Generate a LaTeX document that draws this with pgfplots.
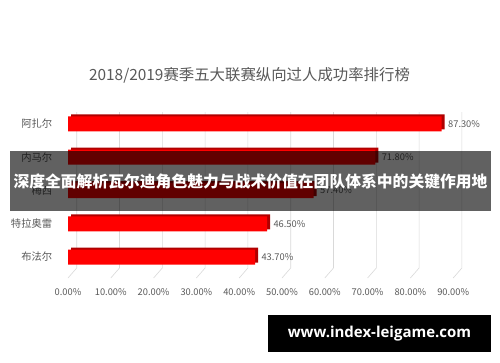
\documentclass[border=0pt]{standalone}
\usepackage{pgfplots}
\pgfplotsset{compat=1.18}
\usepackage{fontspec}
\setmainfont{Noto Sans CJK SC}
\newfontfamily\webfont{Open Sans}
\definecolor{txtgray}{HTML}{595959}
\definecolor{gridc}{HTML}{D9D9D9}
\definecolor{barred}{HTML}{FF0000}
\definecolor{bardark}{HTML}{B00000}
\begin{document}
\begin{tikzpicture}
\fill[white] (0pt,0pt) rectangle (500pt,362pt);
\useasboundingbox (0pt,0pt) rectangle (500pt,362pt);
\node[text=txtgray, font=\fontsize{15.4}{18}\selectfont] at (249.5pt,287pt) {2018/2019赛季五大联赛纵向过人成功率排行榜};
\begin{axis}[
  at={(68pt,84pt)}, anchor=south west,
  scale only axis, width=385.2pt, height=166pt,
  xmin=0, xmax=90, ymin=0.64, ymax=5.63, y dir=reverse,
  xbar, bar width=15pt, clip=false,
  axis line style={draw=none}, major tick style={draw=none},
  /pgf/number format/assume math mode=true,
  xtick={0,10,...,90},
  xticklabel={\pgfmathprintnumber[fixed,fixed zerofill,precision=2]{\tick}\%},
  xticklabel style={font=\fontsize{9.3}{11}\selectfont, text=txtgray, anchor=center, yshift=-14pt},
  ytick={1,2,3,4,5},
  yticklabels={阿扎尔,内马尔,梅西,特拉奥雷,布法尔},
  yticklabel style={font=\fontsize{10.3}{12}\selectfont, text=txtgray, anchor=east, xshift=-8pt},
  point meta=x,
]
\pgfplotsinvokeforeach{0,10,...,90}{\draw[gridc, line width=0.6pt] (axis cs:#1,5.63) -- ++(8.7pt,10pt) -- ++(0pt,156pt);}
\addplot[draw=none, fill=bardark, bar shift=0pt, xshift=3pt, yshift=2pt, forget plot] coordinates {(87.3,1) (71.8,2) (57.4,3) (46.5,4) (43.7,5)};
\addplot[draw=none, fill=barred, bar shift=0pt,
  nodes near coords={\pgfmathprintnumber[fixed,fixed zerofill,precision=2]{\pgfplotspointmeta}\%},
  nodes near coords style={font=\fontsize{9.3}{11}\selectfont, text=txtgray, anchor=west, xshift=3pt}]
  coordinates {(87.3,1) (71.8,2) (57.4,3) (46.5,4) (43.7,5)};
\end{axis}
\fill[black, opacity=0.62] (10pt,151pt) rectangle (491pt,211pt);
\node[text=white, font=\fontsize{15.8}{18}\selectfont\bfseries] at (250.5pt,180pt) {深度全面解析瓦尔迪角色魅力与战术价值在团队体系中的关键作用地};
\fill[black] (268pt,10pt) rectangle (491pt,47pt);
\node[text=white, font=\webfont\fontsize{15}{18}\selectfont\bfseries] at (379.5pt,28.5pt) {www.index-leigame.com};
\end{tikzpicture}
\end{document}
